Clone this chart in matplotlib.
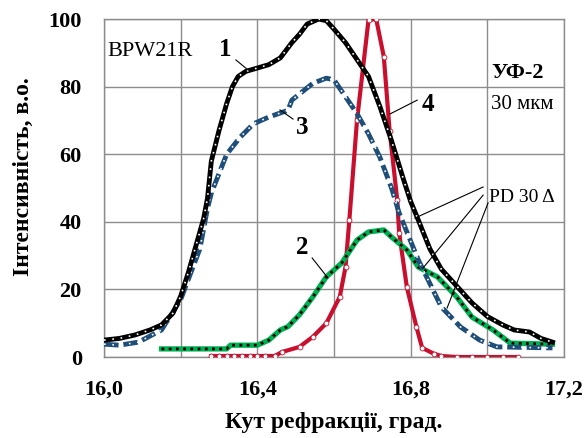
import matplotlib
matplotlib.use('Agg')
import matplotlib.pyplot as plt

# curve 1 (black)
x1 = [16.00, 16.04, 16.08, 16.12, 16.15, 16.18, 16.20, 16.22, 16.24, 16.26, 16.27, 16.28,
      16.30, 16.32, 16.335, 16.35, 16.37, 16.40, 16.43, 16.46, 16.49, 16.51, 16.53, 16.56,
      16.58, 16.60, 16.63, 16.66, 16.69, 16.72, 16.75, 16.78, 16.80, 16.82, 16.85, 16.88,
      16.92, 16.96, 17.00, 17.04, 17.07, 17.11, 17.14, 17.17]
y1 = [5, 5.5, 6.5, 8, 9.5, 13, 18, 25, 33, 41, 47, 58,
      67, 75, 80, 83, 84.5, 85.5, 86.5, 88.5, 93, 95.5, 98.5, 100,
      99.5, 97, 93, 88, 83, 74, 64, 53, 46, 40.5, 32, 26,
      21, 16, 12, 9.5, 8, 7.4, 5.5, 4.4]

# curve 2 (green)
x2 = [16.15, 16.32, 16.33, 16.40, 16.43, 16.46, 16.48, 16.51, 16.545, 16.58, 16.62, 16.66,
      16.69, 16.73, 16.75, 16.79, 16.82, 16.87, 16.92, 16.96, 17.015, 17.06, 17.17]
y2 = [2.4, 2.4, 3.5, 3.5, 5, 8, 9, 12.5, 17.8, 23.7, 27.8, 34.6,
      37, 37.6, 35.5, 31.7, 26.6, 23.7, 17.8, 11.8, 8, 4.1, 3.8]

# curve 3 (blue)
x3 = [16.00, 16.04, 16.09, 16.15, 16.20, 16.25, 16.27, 16.28, 16.32, 16.355, 16.39, 16.43,
      16.48, 16.49, 16.545, 16.58, 16.60, 16.63, 16.66, 16.69, 16.72, 16.75, 16.77, 16.82,
      16.88, 16.93, 16.98, 17.025, 17.17]
y3 = [3.8, 3.5, 4.4, 8, 17, 32, 44, 48.5, 60, 65, 69, 71,
      73, 76, 81, 82.5, 82, 77, 72, 66, 59, 50, 42.6, 28.7,
      14.8, 8.9, 5, 3, 2.7]

# curve 4 (red)
x4 = [16.28, 16.30, 16.32, 16.34, 16.36, 16.38, 16.40, 16.42, 16.445, 16.465, 16.51, 16.545,
      16.58, 16.615, 16.63, 16.64, 16.66, 16.69, 16.71, 16.73, 16.745, 16.765, 16.77, 16.79,
      16.815, 16.83, 16.86, 16.88, 16.92, 16.96, 17.00, 17.04, 17.08]
y4 = [0.3, 0.3, 0.3, 0.3, 0.3, 0.3, 0.3, 0.3, 0.3, 1.5, 3, 6,
      10, 17.8, 26.6, 40.5, 70, 99.7, 100, 88.8, 67, 46.4, 36.7, 20.7,
      8.9, 2.7, 1, 0.3, 0, 0, 0, 0, 0]

xticks = [16.0, 16.2, 16.4, 16.6, 16.8, 17.0, 17.2]
xtick_labels = ['16,0', '', '16,4', '', '16,8', '', '17,2']
yticks = [0, 20, 40, 60, 80, 100]

serif = 'Liberation Serif'

fig = plt.figure(figsize=(5.85, 4.38), dpi=100)
ax = fig.add_axes([0.1778, 0.1849, 0.7863, 0.7717])

# red
ax.plot(x4, y4, color='#C8102E', lw=3, zorder=3)
ax.plot(x4, y4, ls='none', marker='o', ms=3.5, mfc='white', mec='#C8102E', mew=0.6, zorder=3)
# green
ax.plot(x2, y2, color='#00B050', lw=3.8, zorder=4)
ax.plot(x2, y2, color='black', lw=2, ls=(0, (1, 1.6)), zorder=4)
# blue
ax.plot(x3, y3, color='#1F4E79', lw=3.5, ls=(0, (3, 1)), zorder=5)
ax.plot(x3, y3, color='white', lw=1.2, ls=(0, (1, 4)), zorder=5)
# black
ax.plot(x1, y1, color='black', lw=3.5, zorder=6)
ax.plot(x1, y1, color='white', lw=1.2, ls=(0, (1, 4)), zorder=6)

ax.set_xlim(16.0, 17.2)
ax.set_ylim(0, 100)
ax.set_xticks(xticks)
ax.set_xticklabels(xtick_labels)
ax.set_yticks(yticks)
ax.tick_params(length=0, pad=16)
for lab in ax.get_xticklabels() + ax.get_yticklabels():
    lab.set_fontfamily(serif)
    lab.set_fontweight('bold')
    lab.set_fontsize(16)
ax.grid(True, color='#8c8c8c', lw=1)
for sp in ax.spines.values():
    sp.set_color('#8c8c8c')
    sp.set_linewidth(1)

# axis titles
ax.text(0.5, -0.195, 'Кут рефракції, град.', transform=ax.transAxes, family=serif,
        weight='bold', fontsize=17, ha='center', va='center')
ax.text(-0.176, 0.535, 'Інтенсивність, в.о.', transform=ax.transAxes, family=serif,
        weight='bold', fontsize=17, ha='center', va='center', rotation=90)

# annotations
ax.text(16.008, 90.5, 'BPW21R', family=serif, fontsize=16, ha='left', va='center')
ax.text(16.316, 91.1, '1', family=serif, weight='bold', fontsize=18, ha='center', va='center')
ax.plot([16.344, 16.376], [87.9, 84.9], color='black', lw=0.8, zorder=7)
ax.text(16.517, 67.8, '3', family=serif, weight='bold', fontsize=18, ha='center', va='center')
ax.plot([16.459, 16.493], [73.1, 70.4], color='black', lw=0.8, zorder=7)
ax.text(16.845, 74.6, '4', family=serif, weight='bold', fontsize=18, ha='center', va='center')
ax.plot([16.817, 16.746], [76.0, 71.9], color='black', lw=0.8, zorder=7)
ax.text(16.517, 32.5, '2', family=serif, weight='bold', fontsize=18, ha='center', va='center')
ax.plot([16.543, 16.584], [29.3, 23.4], color='black', lw=0.8, zorder=7)

ax.text(17.08, 84, 'УФ-2', family=serif, weight='bold', fontsize=16, ha='center', va='center')
ax.text(17.09, 74.6, '30 мкм', family=serif, fontsize=15, ha='center', va='center')
ax.text(17.09, 47.3, 'PD 30 Δ', family=serif, fontsize=14, ha='center', va='center')
for (xa, ya), (xb, yb) in [((16.989, 50.3), (16.811, 41.1)),
                           ((16.989, 47.9), (16.832, 26.3)),
                           ((17.002, 45.6), (16.895, 14.5))]:
    ax.plot([xa, xb], [ya, yb], color='black', lw=0.8, zorder=7)

fig.savefig('out.png', dpi=100)
